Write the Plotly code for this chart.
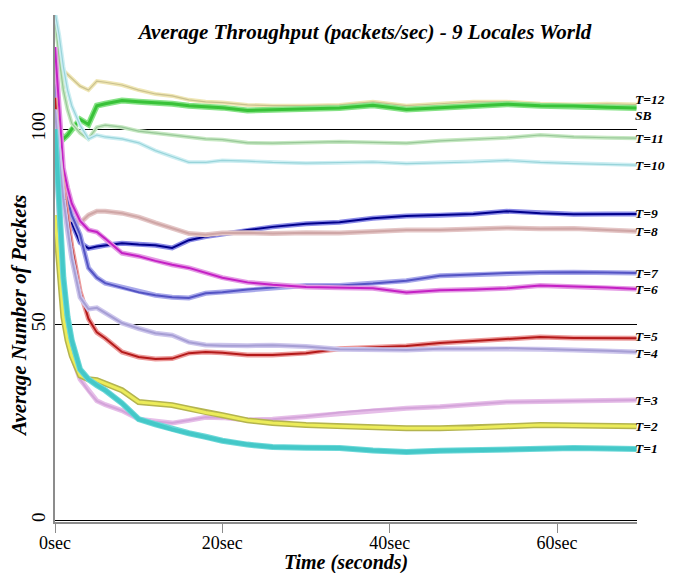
import plotly.graph_objects as go

# time knots (seconds)
time_s = [0, 0.5, 1, 1.5, 2, 3, 4, 5, 6, 8, 10, 12, 14, 16, 18, 20, 23, 26, 30,
          34, 38, 42, 46, 50, 54, 58, 62, 66, 69.5]

t12 = [129, 121, 115, 114, 113, 111, 110, 112.3, 112, 111.3, 110, 109, 108.5, 107.5, 107, 106.8, 106.2, 106, 106,
       106.2, 107, 106, 106.5, 107, 107, 106.5, 106.3, 106.5, 106.3]
sb = [101, 99, 97.5, 98.5, 100, 102.5, 101.2, 106, 106.5, 107.3, 107, 106.8, 106.5, 106, 105.8, 105.5, 104.8, 105, 105.3,
      105.4, 106.1, 105, 105.5, 106, 106.4, 106, 105.9, 105.6, 105.4]
t11 = [128, 118, 110, 105, 101.5, 99, 97.5, 100.5, 101, 100.5, 99.5, 99, 98.5, 98, 97.5, 97.3, 96.5, 96.4, 96.6,
       96.8, 96.6, 96.4, 97, 97.4, 97.8, 98.5, 98, 97.8, 97.7]
t10 = [130, 124, 116, 110, 106, 101, 97.5, 98.5, 98, 97.5, 96.5, 94.5, 93, 91.5, 91.5, 92, 91.8, 91.5, 91.3,
       91.4, 91.6, 91.2, 91.4, 91.6, 92, 91.5, 91.2, 91, 90.8]
t9 = [100, 93, 87, 81, 76, 71, 69.5, 70, 70.3, 70.8, 70.5, 70.3, 69.6, 71.6, 72.5, 73.2, 74.2, 75, 75.8,
      76.2, 77.2, 77.8, 78, 78.3, 79, 78.5, 78.2, 78.3, 78.3]
t8 = [104, 92, 81, 78, 77, 76, 78, 79, 79, 78.5, 77.5, 76, 74.7, 73.3, 73, 73.4, 73.5, 73.3, 73.5,
      73.4, 73.8, 74.2, 74.2, 74.4, 74.7, 74.5, 74.6, 74.2, 73.9]
t7 = [115, 98, 88, 82, 78, 73, 64.5, 62, 60.6, 59.5, 58.3, 57.5, 57, 56.8, 58, 58.3, 59, 59.5, 60,
      60, 60.5, 61.2, 62.5, 62.8, 63.2, 63.3, 63.4, 63.3, 63.2]
t6 = [121, 105, 90, 85, 81, 76.5, 74.2, 73.7, 72, 68.3, 67.5, 66.3, 65.3, 64.5, 63.3, 62, 60.8, 60.2, 59.6,
      59.4, 59.3, 58.2, 58.8, 59, 59.3, 60, 59.8, 59.5, 59.1]
t5 = [108, 93, 85, 77, 70, 58.5, 51.5, 48, 46.5, 43, 41.7, 41.2, 41.3, 42.7, 43, 42.8, 42.2, 42.2, 42.7,
      43.8, 44.2, 44.5, 45.3, 45.8, 46.3, 46.8, 46.6, 46.6, 46.5]
t4 = [105, 92, 82, 74, 67, 57, 54, 54.3, 53, 50.4, 49, 47.8, 47.3, 45.5, 44.8, 44.6, 44.6, 44.7, 44.4,
      43.7, 43.6, 43.5, 43.8, 43.8, 44, 43.7, 43.5, 43.3, 43]
t3 = [98, 75, 58, 48, 42, 36, 33, 30.5, 29.5, 28, 25.8, 25.2, 24.8, 25.5, 26.3, 26.2, 25.6, 25.8, 26.5,
      27.5, 28.2, 28.6, 29, 29.6, 30.2, 30.3, 30.5, 30.7, 30.7]
t2 = [78, 65, 52, 46, 42, 37, 36, 35.8, 35, 33.2, 30.2, 29.8, 29.4, 28.5, 27.5, 26.8, 25.5, 24.8, 24.3,
      24, 23.8, 23.5, 23.5, 23.6, 24, 24.3, 24.2, 24.1, 24]
t1 = [100, 80, 62, 52, 46, 38.5, 36, 34.5, 33.2, 29.9, 25.8, 24.5, 23.2, 22.2, 21.3, 20.3, 19.3, 18.7, 18.5,
      18.4, 17.8, 17.4, 17.7, 17.9, 17.9, 18.1, 18.4, 18.3, 18.2]

series_names = ["T=12", "SB", "T=11", "T=10", "T=9", "T=8", "T=7", "T=6", "T=5", "T=4", "T=3", "T=2", "T=1"]
series_values = [t12, sb, t11, t10, t9, t8, t7, t6, t5, t4, t3, t2, t1]

x_tick_vals = [0, 20, 40, 60]
x_tick_text = ["0sec", "20sec", "40sec", "60sec"]
y_tick_vals = [0, 50, 100]
y_tick_text = ["0", "50", "100"]

# style: (halo colour, halo width, core colour, core width)
styles = {
    "T=12": ("#efe6b4", 4, "#c9c08e", 1.2),
    "SB": ("#86e286", 6, "#38c238", 3),
    "T=11": ("#c6e8c2", 4, "#98c898", 1.2),
    "T=10": ("#cdeef2", 4, "#98d4da", 1.2),
    "T=9": ("#8a8ae6", 5, "#00008c", 2),
    "T=8": ("#e4c6c6", 5, "#cfa6a6", 2),
    "T=7": ("#a8a8ea", 5, "#5454c4", 2),
    "T=6": ("#e49ae4", 5, "#c420c4", 2),
    "T=5": ("#ec9a9a", 5, "#b41a1a", 2),
    "T=4": ("#cdc6ec", 5, "#a69ed4", 2),
    "T=3": ("#e6bee8", 5, "#d4a4da", 2),
    "T=2": ("#b4b44e", 6, "#ecec5a", 3),
    "T=1": ("#6cd8d8", 6, "#44c8c8", 4),
}
label_offset = {"T=12": 1.2, "SB": -1.9, "T=5": 0.4, "T=4": -0.4}

serif = "Liberation Serif"
fig = go.Figure()
for name, vals in zip(series_names, series_values):
    hc, hw, cc, cw = styles[name]
    fig.add_trace(go.Scatter(x=time_s, y=vals, mode="lines",
                             line=dict(color=hc, width=hw), showlegend=False, hoverinfo="skip"))
    fig.add_trace(go.Scatter(x=time_s, y=vals, mode="lines", name=name,
                             line=dict(color=cc, width=cw), showlegend=False))
    fig.add_annotation(x=1, xref="paper", xanchor="left", xshift=-3, borderpad=0,
                       y=vals[-1] + label_offset.get(name, 0), yref="y", yanchor="middle",
                       text="<b><i>%s</i></b>" % name, showarrow=False,
                       font=dict(family=serif, size=13.5, color="black"))

# axis titles as annotations for exact placement (plot area: 582 x 507 px)
fig.add_annotation(x=0.5, xref="paper", y=-(562 - 522) / 507, yref="paper",
                   xanchor="center", yanchor="middle", showarrow=False,
                   text="<b><i>Time (seconds)</i></b>",
                   font=dict(family=serif, size=20, color="black"))
fig.add_annotation(x=(19 - 55) / 582, xref="paper", y=(522 - 316) / 507, yref="paper",
                   xanchor="center", yanchor="middle", showarrow=False, textangle=-90,
                   text="<b><i>Average Number of Packets</i></b>",
                   font=dict(family=serif, size=21, color="black"))

# page body has an 8px margin: figure is 659x565 placed at (8, 8) so the page does not overflow
fig.update_layout(
    width=659, height=565,
    margin=dict(l=47, r=30, t=7, b=51),
    paper_bgcolor="white", plot_bgcolor="white",
    title=dict(text="<b><i>Average Throughput (packets/sec) - 9 Locales World</i></b>",
               x=(365 - 8) / 659, xref="container", xanchor="center",
               y=1 - 24 / 565, yref="container", yanchor="middle",
               font=dict(family=serif, size=21, color="black")),
    xaxis=dict(range=[0, 69.56], tickvals=x_tick_vals, ticktext=x_tick_text,
               showgrid=False, zeroline=False, showline=True, linecolor="#8c8c8c", linewidth=2,
               ticks="outside", ticklen=9, tickcolor="#8c8c8c", tickwidth=1, ticklabelstandoff=-6,
               tickfont=dict(family=serif, size=18, color="black"), automargin=False),
    yaxis=dict(range=[-0.5, 129.2], tickvals=y_tick_vals, ticktext=y_tick_text, tickangle=-90,
               showgrid=True, gridcolor="black", gridwidth=1, zeroline=False,
               showline=True, linecolor="#8c8c8c", linewidth=2, ticks="",
               tickfont=dict(family=serif, size=19, color="black"), automargin=False),
)

fig.write_html("out.html")
